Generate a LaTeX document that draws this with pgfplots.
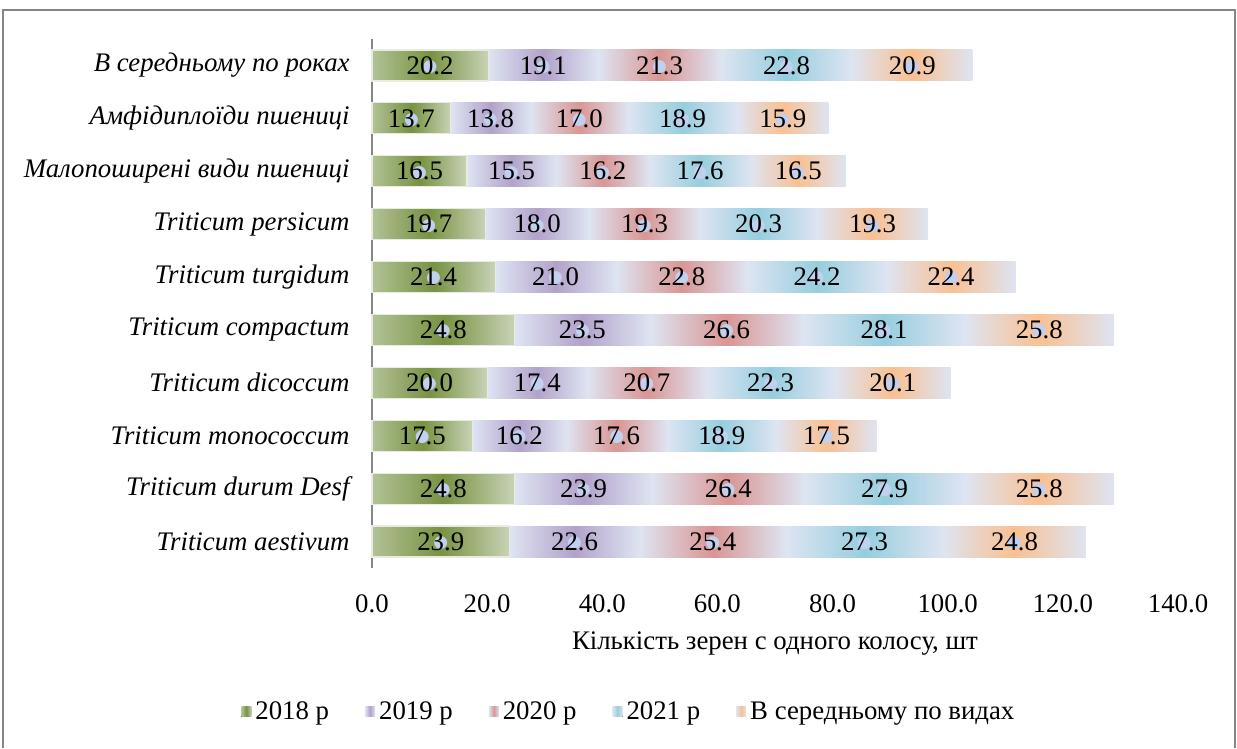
\documentclass[border=0pt]{standalone}
\usepackage{fontspec}
\setmainfont{Liberation Serif}
\newfontfamily\dejavu{DejaVu Sans}
\usepackage{pgfplots}
\usepackage{pgfplotstable}
\pgfplotsset{compat=1.18}

\definecolor{cA}{RGB}{120,146,66}
\definecolor{cAl}{RGB}{178,194,150}
\definecolor{cAr}{RGB}{200,211,182}
\definecolor{cAb}{RGB}{232,236,224}
\definecolor{cB}{RGB}{178,162,202}
\definecolor{cC}{RGB}{217,150,148}
\definecolor{cD}{RGB}{150,206,222}
\definecolor{cE}{RGB}{249,192,146}
\definecolor{edge}{RGB}{222,228,242}
\definecolor{dotc}{RGB}{192,208,238}
\definecolor{framec}{RGB}{134,134,134}

% rows from bottom to top
\pgfplotstableread{
idx a    b    c    d    e
0   23.9 22.6 25.4 27.3 24.8
1   24.8 23.9 26.4 27.9 25.8
2   17.5 16.2 17.6 18.9 17.5
3   20.0 17.4 20.7 22.3 20.1
4   24.8 23.5 26.6 28.1 25.8
5   21.4 21.0 22.8 24.2 22.4
6   19.7 18.0 19.3 20.3 19.3
7   16.5 15.5 16.2 17.6 16.5
8   13.7 13.8 17.0 18.9 15.9
9   20.2 19.1 21.3 22.8 20.9
}\grains

\newcommand{\fs}{\fontsize{13.4}{15}\selectfont}
\newcommand{\dt}{\makebox[0pt][l]{\makebox[1.75em]{\raisebox{1.4pt}{\fontsize{8.5}{8.5}\selectfont\dejavu\textcolor{dotc}{●}}}}}

\begin{document}
\begin{tikzpicture}[x=1pt,y=1pt]
\path (-186,-87) rectangle (432.5,284);
\draw[framec, line width=1pt] (-184.5,-90) -- (-184.5,279) -- (431.5,279) -- (431.5,-90);
\begin{axis}[
  at={(0,0)}, anchor=south west,
  scale only axis, width=403pt, height=264.5pt,
  xbar stacked, bar width=15.5pt,
  xmin=0, xmax=140, ymin=-0.5, ymax=9.5,
  xtick={0,20,...,140},
  ytick={0,...,9},
  yticklabels={Triticum aestivum, Triticum durum Desf, Triticum monococcum,
    Triticum dicoccum, Triticum compactum, Triticum turgidum, Triticum persicum,
    Малопоширені види пшениці, Амфідиплоїди пшениці, В середньому по роках},
  major tick length=0pt,
  axis lines*=left,
  x axis line style={draw=none},
  y axis line style={framec, line width=1pt},
  /pgf/number format/.cd, fixed, fixed zerofill, precision=1, assume math mode=true,
  /pgfplots/.cd,
  tick label style={font=\fs},
  xticklabel style={yshift=-10pt},
  yticklabel style={font=\fs\itshape, xshift=-7.7pt},
  xlabel={Кількість зерен с одного колосу, шт},
  xlabel style={font=\fs, at={(axis description cs:0.5,-0.142)}, anchor=center},
  legend style={at={(0.32,-0.272)}, anchor=center, draw=none, font=\fs,
    legend columns=5, /tikz/every even column/.append style={column sep=16pt}},
  legend image code/.code={\fill[#1] (0pt,-2.5pt) rectangle (5pt,2.5pt);},
  % each segment is drawn as a shaded node of the segment's own size
  visualization depends on={rawx \as \rawx},
  nodes near coords={\dt\pgfmathprintnumber{\pgfplotspointmeta}},
  every node near coord/.append style={anchor=center, font=\fs, text=black,
    rectangle, inner sep=0pt, minimum height=15.5pt,
    minimum width={\rawx*2.878571pt}},
]
\addlegendimage{draw=none, left color=cAl, right color=cAr, middle color=cA}
\addlegendimage{draw=none, left color=edge, right color=edge, middle color=cB}
\addlegendimage{draw=none, left color=edge, right color=edge, middle color=cC}
\addlegendimage{draw=none, left color=edge, right color=edge, middle color=cD}
\addlegendimage{draw=none, left color=edge, right color=edge, middle color=cE}

\addplot[draw=none, fill=none, nodes near coords style={draw=cAb, line width=0.6pt, left color=cAl, right color=cAr, middle color=cA}] table[x=a, y=idx] {\grains};
\addplot[draw=none, fill=none, nodes near coords style={left color=edge, right color=edge, middle color=cB}] table[x=b, y=idx] {\grains};
\addplot[draw=none, fill=none, nodes near coords style={left color=edge, right color=edge, middle color=cC}] table[x=c, y=idx] {\grains};
\addplot[draw=none, fill=none, nodes near coords style={left color=edge, right color=edge, middle color=cD}] table[x=d, y=idx] {\grains};
\addplot[draw=none, fill=none, nodes near coords style={left color=edge, right color=edge, middle color=cE}] table[x=e, y=idx] {\grains};
\legend{2018 р, 2019 р, 2020 р, 2021 р, В середньому по видах}
\end{axis}
\end{tikzpicture}
\end{document}
